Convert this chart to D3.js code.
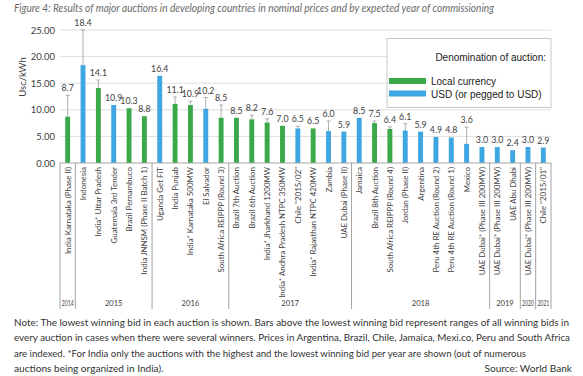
<!DOCTYPE html>
<html><head><meta charset="utf-8">
<script src="https://cdn.jsdelivr.net/npm/d3@7"></script>
<style>body{margin:0;background:#fff}svg{display:block}</style>
</head><body>
<svg id="c" width="583" height="376"></svg>
<script>
const categories = ["India Karnataka (Phase II)","Indonesia","India* Uttar Pradesh","Guatemala 3rd Tender","Brazil Pernambuco","India JNNSM (Phase II Batch 1)","Uganda Get FiT","India Punjab","India* Karnataka 500MW","El Salvador","South Africa REIPPP (Round 3)","Brazil 7th Auction","Brazil 6th Auction","India* Jharkhand 1200MW","India* Andhra Pradesh NTPC 350MW","Chile \"2015/02\"","India* Rajasthan NTPC 420MW","Zambia","UAE Dubai (Phase II)","Jamaica","Brazil 8th Auction","South Africa REIPPP (Round 4)","Jordan (Phase II)","Argentina","Peru 4th RE Auction (Round 2)","Peru 4th RE Auction (Round 1)","Mexico","UAE Dubai* (Phase III 200MW)","UAE Dubai* (Phase III 200MW)","UAE Abu Dhabi","UAE Dubai* (Phase III 200MW)","Chile \"2015/01\""];
const lowestBid = [8.7,18.4,14.1,10.9,10.3,8.8,16.4,11.1,10.9,10.2,8.5,8.5,8.2,7.6,7.0,6.5,6.5,6.0,5.9,8.5,7.5,6.4,6.1,5.9,4.9,4.8,3.6,3.0,3.0,2.4,3.0,2.9];
const highestBid = [12.7,25.0,15.6,null,null,null,null,12.4,11.6,12.3,10.9,null,9.0,8.3,null,6.9,null,7.9,null,null,7.9,6.8,7.4,null,null,null,6.75,null,null,null,null,null];
const currency = ["L","U","L","U","L","L","U","L","L","U","L","L","L","L","L","U","L","U","U","U","L","L","U","U","U","U","U","U","U","U","U","U"];
const years = ["2014","2015","2016","2017","2018","2019","2020","2021"];
const yearCounts = [1,5,5,8,9,2,1,1];
const yTicks = [0,5,10,15,20,25];
const legendLabels = ["Local currency","USD (or pegged to USD)"];

const colors = {L:"#3ba84a", U:"#3ea6e0"};
const svg = d3.select("#c");
const ids = categories.map((c,i)=>i);
const x = d3.scaleBand().domain(ids).range([60,551]).paddingInner(0.68).paddingOuter(0.34);
const y = d3.scaleLinear().domain([0,25]).range([163,30]);

// title
svg.append("text").attr("x",14).attr("y",12).attr("font-family","Lato, 'Open Sans', sans-serif")
  .attr("font-style","italic").attr("font-size",10.6).attr("fill","#6a6a6a")
  .attr("textLength",480).attr("lengthAdjust","spacingAndGlyphs")
  .text("Figure 4: Results of major auctions in developing countries in nominal prices and by expected year of commissioning");

// gridlines
svg.append("g").selectAll("line").data(yTicks.filter(d=>d>0)).join("line")
  .attr("x1",60).attr("x2",551).attr("y1",d=>y(d)).attr("y2",d=>y(d))
  .attr("stroke","#dedede").attr("stroke-width",1);

// y axis labels
const yAxis = d3.axisLeft(y).tickValues(yTicks).tickFormat(d3.format(".2f")).tickSize(0).tickPadding(5);
const ya = svg.append("g").attr("transform","translate(60,0)").call(yAxis);
ya.select(".domain").remove();
ya.selectAll("text").attr("font-family","Lato, sans-serif").attr("font-size",9.5).attr("fill","#404040");

svg.append("text").attr("transform","translate(26,77) rotate(-90)").attr("text-anchor","middle")
  .attr("font-family","Lato, sans-serif").attr("font-size",9.5).attr("fill","#404040").text("Usc/kWh");

// error bars
const eb = svg.append("g");
ids.forEach(i=>{
  if(highestBid[i]==null) return;
  const cx = x(i)+x.bandwidth()/2;
  eb.append("line").attr("x1",cx).attr("x2",cx).attr("y1",y(lowestBid[i])).attr("y2",y(highestBid[i]))
    .attr("stroke","#9a9a9a").attr("stroke-width",0.8);
  eb.append("line").attr("x1",cx-2).attr("x2",cx+2).attr("y1",y(highestBid[i])).attr("y2",y(highestBid[i]))
    .attr("stroke","#9a9a9a").attr("stroke-width",0.8);
});

// bars
svg.append("g").selectAll("rect").data(ids).join("rect")
  .attr("x",i=>x(i)).attr("width",x.bandwidth())
  .attr("y",i=>y(lowestBid[i])).attr("height",i=>y(0)-y(lowestBid[i]))
  .attr("fill",i=>colors[currency[i]]);

// value labels
svg.append("g").selectAll("text").data(ids).join("text")
  .attr("x",i=>x(i)+x.bandwidth()/2)
  .attr("y",i=>y(Math.max(lowestBid[i], highestBid[i]||0))-4)
  .attr("text-anchor","middle").attr("font-family","Lato, sans-serif").attr("font-size",8.8)
  .attr("fill","#404040").text(i=>lowestBid[i].toFixed(1));

// baseline
svg.append("line").attr("x1",60).attr("x2",551).attr("y1",y(0)).attr("y2",y(0)).attr("stroke","#a6a6a6");

// category labels
svg.append("g").selectAll("text").data(ids).join("text")
  .attr("transform",i=>`translate(${x(i)+x.bandwidth()/2+3},167) rotate(-90)`)
  .attr("text-anchor","end").attr("font-family","Lato, sans-serif").attr("font-size",7.9)
  .attr("fill","#404040").text(i=>categories[i]);

// year groups
const step = x.step();
let start = 0;
const yg = svg.append("g");
const bounds = [60];
yearCounts.forEach((n,k)=>{
  const x0 = 60 + start*step, x1 = 60 + (start+n)*step;
  bounds.push(x1);
  const t = yg.append("text").attr("x",(x0+x1)/2).attr("y",306).attr("text-anchor","middle")
    .attr("font-family","Lato, sans-serif").attr("font-size",n===1?7.2:7.6).attr("fill","#404040").text(years[k]);
  if(n===1) t.attr("textLength",step-3.5).attr("lengthAdjust","spacingAndGlyphs");
  start += n;
});
yg.selectAll("line").data(bounds).join("line").attr("x1",d=>d).attr("x2",d=>d)
  .attr("y1",163).attr("y2",309).attr("stroke","#8c8c8c").attr("stroke-width",0.8);

// legend
const lg = svg.append("g");
lg.append("rect").attr("x",387).attr("y",38.5).attr("width",164).attr("height",69)
  .attr("fill","#fff").attr("stroke","#c8c8c8");
lg.append("text").attr("x",546).attr("y",61).attr("text-anchor","end")
  .attr("font-family","'Liberation Sans', Arial, sans-serif").attr("font-size",10).attr("fill","#222")
  .text("Denomination of auction:");
["L","U"].forEach((k,j)=>{
  lg.append("rect").attr("x",389).attr("y",78+j*12.5).attr("width",37).attr("height",6).attr("fill",colors[k]);
  lg.append("text").attr("x",431).attr("y",85+j*12.5).attr("font-family","'Liberation Sans', Arial, sans-serif")
    .attr("font-size",10).attr("fill","#222").text(legendLabels[j]);
});

// note
const notes = ["Note: The lowest winning bid in each auction is shown. Bars above the lowest winning bid represent ranges of all winning bids in",
"every auction in cases when there were several winners. Prices in Argentina, Brazil, Chile, Jamaica, Mexi.co, Peru and South Africa",
"are indexed.  *For India only the auctions with the highest and the lowest winning bid per year are shown (out of numerous",
"auctions being organized in India)."];
const noteLens = [555,556,512,null];
notes.forEach((t,j)=>{
  const tx = svg.append("text").attr("x",14).attr("y",326+j*15.3).attr("font-family","Lato, sans-serif")
    .attr("font-size",10.1).attr("fill","#333").text(t);
  if(noteLens[j]) tx.attr("textLength",noteLens[j]).attr("lengthAdjust","spacingAndGlyphs");
});
svg.append("text").attr("x",572).attr("y",372).attr("text-anchor","end").attr("font-family","Lato, sans-serif")
  .attr("font-size",10.1).attr("fill","#333").text("Source: World Bank");
</script>
</body></html>
